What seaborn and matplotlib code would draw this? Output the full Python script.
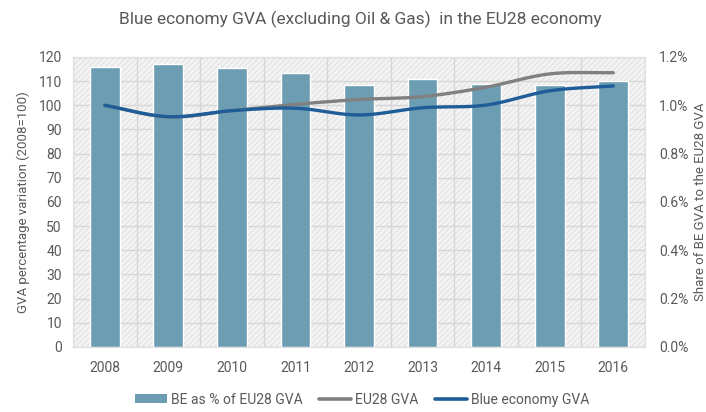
import numpy as np
import pandas as pd
import matplotlib
matplotlib.use("Agg")
import matplotlib.pyplot as plt
from matplotlib.patches import Rectangle, Patch
from matplotlib.lines import Line2D
import seaborn as sns

years = ["2008", "2009", "2010", "2011", "2012", "2013", "2014", "2015", "2016"]
be_share_pct = [1.157, 1.169, 1.153, 1.134, 1.084, 1.108, 1.087, 1.085, 1.101]
eu28_gva = [100.0, 95.2, 97.8, 100.4, 102.4, 103.6, 107.5, 113.0, 113.5]
blue_gva = [100.0, 95.3, 97.8, 98.8, 96.0, 99.0, 100.1, 106.0, 108.0]

sns.set_theme(style="white")
plt.rcParams['font.family'] = ['Roboto', 'DejaVu Sans']
plt.rcParams['hatch.linewidth'] = 0.6

TXT = "#595959"
BAR = "#6c9db2"
GREY = "#808080"
BLUE = "#1f5d98"


def smooth(y, n=30):
    y = np.asarray(y, dtype=float)
    p = np.concatenate([[2 * y[0] - y[1]], y, [2 * y[-1] - y[-2]]])
    xs, ys = [], []
    for i in range(1, len(p) - 2):
        t = np.linspace(0, 1, n, endpoint=(i == len(p) - 3))
        p0, p1, p2, p3 = p[i - 1], p[i], p[i + 1], p[i + 2]
        v = 0.5 * ((2 * p1) + (-p0 + p2) * t + (2 * p0 - 5 * p1 + 4 * p2 - p3) * t ** 2
                   + (-p0 + 3 * p1 - 3 * p2 + p3) * t ** 3)
        xs.append((i - 1) + t)
        ys.append(v)
    return np.concatenate(xs), np.concatenate(ys)


fig = plt.figure(figsize=(7.06, 4.12), dpi=100)
ax2 = fig.add_axes([0.1034, 0.1578, 0.8102, 0.7039])  # bars, right axis
ax = ax2.twinx()
ax.yaxis.tick_left()
ax.yaxis.set_label_position("left")
ax2.yaxis.tick_right()
ax2.yaxis.set_label_position("right")
ax.set_zorder(ax2.get_zorder() + 1)
ax.patch.set_visible(False)

ax2.set_facecolor("#f3f3f3")
ax2.add_patch(Rectangle((0, 0), 1, 1, transform=ax2.transAxes, facecolor="none",
                        edgecolor="#dedede", hatch="//////", linewidth=0, zorder=0))

bars_df = pd.DataFrame({"year": years, "share": be_share_pct})
sns.barplot(data=bars_df, x="year", y="share", ax=ax2, color=BAR, width=0.47,
            saturation=1, zorder=3)
ax2.set_xlim(-0.5, 8.5)
ax2.set_ylim(0, 1.2)
ax2.set_yticks(np.arange(0, 1.21, 0.2))
ax2.set_yticklabels([f"{v:.1f}%" for v in np.arange(0, 1.21, 0.2)])
ax2.set_yticks(np.arange(0, 1.21, 0.1), minor=True)
ax2.set_xticks(np.arange(-0.5, 8.6, 1), minor=True)
ax2.grid(which="both", axis="both", color="#d6d6d6", linewidth=1.0, zorder=1)
ax2.grid(which="major", axis="x", visible=False)
ax2.set_axisbelow(True)
ax2.set_xlabel("")
ax2.set_ylabel("Share of BE GVA to the EU28 GVA", color=TXT, fontsize=9.5, labelpad=4)

xs, ys1 = smooth(eu28_gva)
_, ys2 = smooth(blue_gva)
lines_df = pd.DataFrame({"x": np.concatenate([xs, xs]),
                         "v": np.concatenate([ys1, ys2]),
                         "s": ["EU28 GVA"] * len(xs) + ["Blue economy GVA"] * len(xs)})
sns.lineplot(data=lines_df, x="x", y="v", hue="s", palette=[GREY, BLUE], ax=ax,
             linewidth=2.4, legend=False, sort=False)
ax.set_xlim(-0.5, 8.5)
ax.set_ylim(0, 120)
ax.set_yticks(np.arange(0, 121, 10))
ax.set_ylabel("GVA percentage variation (2008=100)", color=TXT, fontsize=9.5, labelpad=6)
ax.set_xlabel("")

for a in (ax, ax2):
    a.tick_params(axis="both", which="both", length=0, labelcolor=TXT, labelsize=10, pad=8)
    for s in a.spines.values():
        s.set_color("#e0e0e0")
        s.set_linewidth(0.8)
ax2.tick_params(axis="x", pad=10)
ax2.tick_params(axis="y", pad=10)

fig.suptitle("Blue economy GVA (excluding Oil & Gas)  in the EU28 economy",
             color=TXT, fontsize=12.5, y=0.975, x=0.51)

handles = [Patch(facecolor=BAR, edgecolor="none"),
           Line2D([], [], color=GREY, linewidth=2.6),
           Line2D([], [], color=BLUE, linewidth=2.6)]
labels = ["BE as % of EU28 GVA", "EU28 GVA", "Blue economy GVA"]
fig.legend(handles, labels, loc="center", bbox_to_anchor=(0.513, 0.03), ncol=3,
           frameon=False, fontsize=10, labelcolor=TXT, handlelength=2.3,
           handleheight=0.6, handletextpad=0.3, columnspacing=1.2)

fig.savefig("out.png", dpi=100)
